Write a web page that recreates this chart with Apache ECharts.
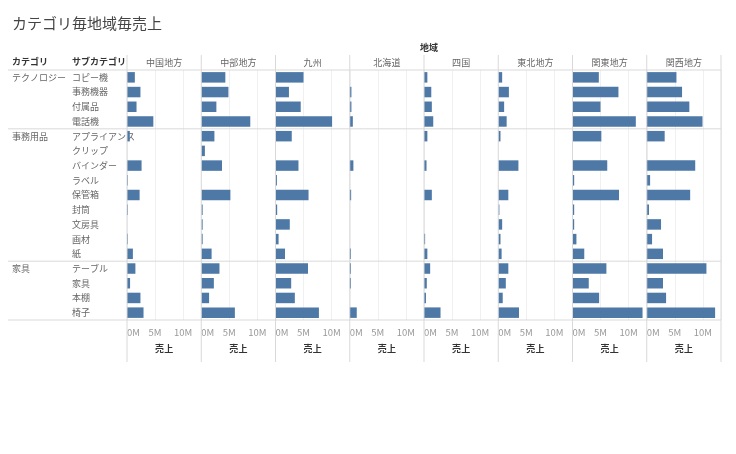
<!DOCTYPE html>
<html>
<head>
<meta charset="utf-8">
<script src="https://cdn.jsdelivr.net/npm/echarts@6/dist/echarts.min.js"></script>
<style>
html,body{margin:0;padding:0;background:#fff;}
#chart{width:736px;height:454px;}
</style>
</head>
<body>
<div id="chart"></div>
<script>
// 売上 (単位: M)
var regions = ['中国地方','中部地方','九州','北海道','四国','東北地方','関東地方','関西地方'];
var categories = ['テクノロジー','事務用品','家具'];
var categorySizes = [4, 9, 4];
var subCategories = ['コピー機','事務機器','付属品','電話機',
  'アプライアンス','クリップ','バインダー','ラベル','保管箱','封筒','文房具','画材','紙',
  'テーブル','家具','本棚','椅子'];
var xTicks = [0, 5, 10];

var chugoku  = [1.4, 2.4, 1.7, 4.7, 0.5, 0, 2.6, 0.15, 2.25, 0.15, 0, 0.15, 1.05, 1.5, 0.55, 2.4, 2.95];
var chubu    = [4.3, 4.85, 2.7, 8.75, 2.35, 0.65, 3.7, 0, 5.2, 0.25, 0.25, 0.25, 1.85, 3.25, 2.25, 1.4, 6.0];
var kyushu   = [5.0, 2.4, 4.5, 10.1, 2.9, 0, 4.1, 0.25, 5.9, 0.3, 2.55, 0.55, 1.7, 5.8, 2.8, 3.45, 7.75];
var hokkaido = [0, 0.3, 0.3, 0.55, 0, 0, 0.65, 0, 0.25, 0, 0, 0, 0.2, 0.2, 0.2, 0, 1.25];
var shikoku  = [0.6, 1.3, 1.4, 1.65, 0.6, 0, 0.45, 0, 1.4, 0, 0, 0.2, 0.6, 1.1, 0.5, 0.35, 2.95];
var tohoku   = [0.7, 1.9, 1.05, 1.5, 0.4, 0, 3.6, 0, 1.8, 0.2, 0.7, 0.4, 0.6, 1.8, 1.35, 0.8, 3.7];
var kanto    = [4.7, 8.2, 5.0, 11.3, 5.15, 0, 6.2, 0.3, 8.3, 0.3, 0.3, 0.7, 2.1, 6.05, 2.9, 4.75, 12.5];
var kansai   = [5.3, 6.3, 7.6, 9.95, 3.2, 0, 8.65, 0.6, 7.75, 0.4, 2.55, 0.95, 2.9, 10.65, 2.9, 3.45, 12.2];
var salesByRegion = [chugoku, chubu, kyushu, hokkaido, shikoku, tohoku, kanto, kansai];

var FONT = '"Noto Sans CJK JP", "Noto Sans", sans-serif';
var gridTop = 70, gridH = 250, panelLeft = 127, panelW = 74.25;
var rowH = gridH / subCategories.length;
var lineColor = '#d9d9d9';
var xMax = 13.25;

// カテゴリの先頭行
var catStart = {};
var acc = 0;
for (var c = 0; c < categories.length; c++) {
  catStart[acc] = categories[c];
  acc += categorySizes[c];
}

var grid = [], xAxis = [], yAxis = [], series = [];

// ラベル用グリッド
grid.push({left: 8, top: gridTop, width: panelLeft - 8, height: gridH});
xAxis.push({type:'value', gridIndex:0, show:false});
yAxis.push({type:'category', gridIndex:0, position:'left', data:subCategories, inverse:true,
  axisLine:{show:false}, axisTick:{show:false},
  axisLabel:{inside:true, margin:64, color:'#666', fontSize:9, fontFamily:FONT}});
yAxis.push({type:'category', gridIndex:0, position:'left', offset:0, data:subCategories, inverse:true,
  axisLine:{show:false}, axisTick:{show:false},
  axisLabel:{inside:true, margin:4, color:'#666', fontSize:9, fontFamily:FONT, interval:0,
    formatter:function(v, i){ return catStart[i] || ''; }}});

for (var i = 0; i < regions.length; i++) {
  var g = i + 1;
  grid.push({left: panelLeft + i * panelW, top: gridTop, width: panelW, height: gridH});
  xAxis.push({type:'value', gridIndex:g, min:0, max:xMax, interval:5,
    name:'売上', nameLocation:'middle', nameGap:24,
    nameTextStyle:{color:'#333', fontSize:9, fontWeight:'bold', fontFamily:FONT},
    axisLine:{show:false}, axisTick:{show:false},
    axisLabel:{color:'#999', fontSize:9.5, fontFamily:FONT, margin:8,
      showMaxLabel:false, alignMinLabel:'left',
      formatter:function(v){ return xTicks.indexOf(v) >= 0 ? v + 'M' : ''; }},
    splitLine:{show:true, lineStyle:{color:'#f0f0f0', width:1}}});
  xAxis.push({type:'value', gridIndex:g, position:'top', min:0, max:xMax,
    name:regions[i], nameLocation:'middle', nameGap:3,
    nameTextStyle:{color:'#666', fontSize:9, fontFamily:FONT},
    axisLine:{show:false}, axisTick:{show:false}, axisLabel:{show:false}, splitLine:{show:false}});
  yAxis.push({type:'category', gridIndex:g, data:subCategories, inverse:true,
    axisLine:{show:false}, axisTick:{show:false}, axisLabel:{show:false}});
  series.push({type:'bar', xAxisIndex:2 * i + 1, yAxisIndex:i + 2,
    data:salesByRegion[i], barWidth:10.5, silent:true,
    itemStyle:{color:'#4e79a7'}});
}

// 枠線
var graphics = [];
var ys = [gridTop];
acc = 0;
for (var c2 = 0; c2 < categorySizes.length; c2++) {
  acc += categorySizes[c2];
  ys.push(gridTop + acc * rowH);
}
ys.forEach(function(y){
  graphics.push({type:'line', shape:{x1:8, y1:y, x2:panelLeft + regions.length * panelW, y2:y},
    style:{stroke:lineColor, lineWidth:1}, z:10});
});
for (var k = 0; k <= regions.length; k++) {
  var x = panelLeft + k * panelW;
  graphics.push({type:'line', shape:{x1:x, y1:55, x2:x, y2:362},
    style:{stroke:lineColor, lineWidth:1}, z:10});
}

var chart = echarts.init(document.getElementById('chart'));
chart.setOption({
  animation:false,
  title:[
    {text:'カテゴリ毎地域毎売上', left:7, top:11,
      textStyle:{color:'#444', fontSize:15, fontWeight:'normal', fontFamily:FONT}},
    {text:'地域', left:424, top:38, textAlign:'center',
      textStyle:{color:'#333', fontSize:9, fontWeight:'bold', fontFamily:FONT}},
    {text:'カテゴリ', left:7, top:52,
      textStyle:{color:'#333', fontSize:9, fontWeight:'bold', fontFamily:FONT}},
    {text:'サブカテゴリ', left:67, top:52,
      textStyle:{color:'#333', fontSize:9, fontWeight:'bold', fontFamily:FONT}}
  ],
  grid:grid,
  xAxis:xAxis,
  yAxis:yAxis,
  series:series,
  graphic:graphics
});
</script>
</body>
</html>
